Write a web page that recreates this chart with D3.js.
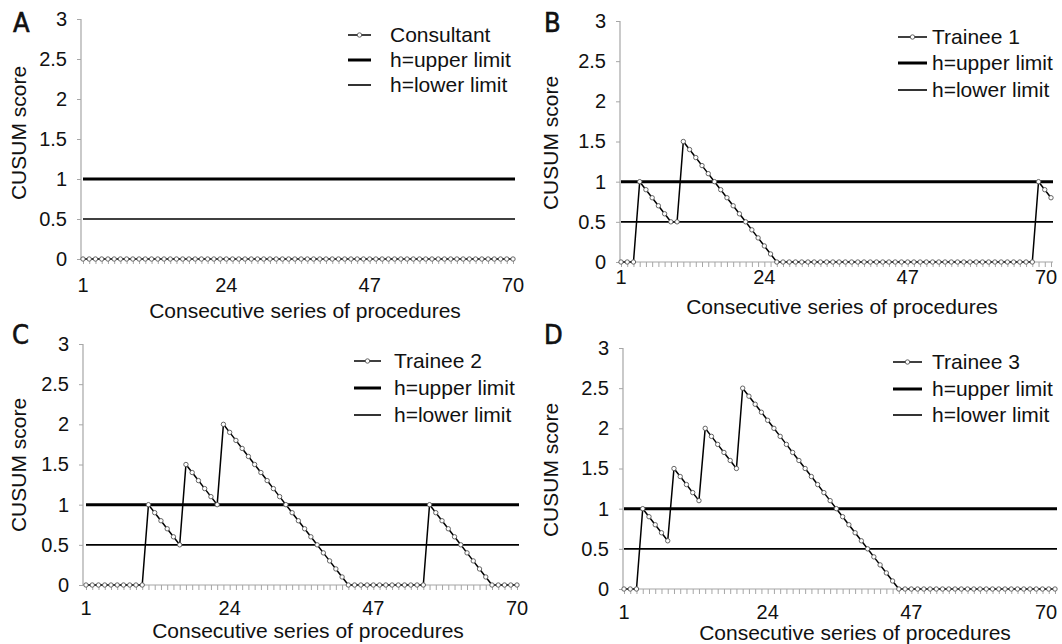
<!DOCTYPE html>
<html>
<head>
<meta charset="utf-8">
<script src="https://cdn.jsdelivr.net/npm/d3@7/dist/d3.min.js"></script>
<style>
  html, body { margin: 0; padding: 0; background: #fff; }
  svg { display: block; }
  text { font-family: "Liberation Sans", Arial, sans-serif; fill: #111; }
</style>
</head>
<body>
<svg id="chart" width="1062" height="644"></svg>
<script>
// ---------- DATA ----------
const categories = [1,2,3,4,5,6,7,8,9,10,11,12,13,14,15,16,17,18,19,20,21,22,23,24,25,26,27,28,29,30,31,32,33,34,35,36,37,38,39,40,41,42,43,44,45,46,47,48,49,50,51,52,53,54,55,56,57,58,59,60,61,62,63,64,65,66,67,68,69,70];
const xTickLabels = [1, 24, 47, 70];
const yTickValues = [0, 0.5, 1, 1.5, 2, 2.5, 3];
const upperLimit = 1;
const lowerLimit = 0.5;

const consultant = [0,0,0,0,0,0,0,0,0,0, 0,0,0,0,0,0,0,0,0,0, 0,0,0,0,0,0,0,0,0,0, 0,0,0,0,0,0,0,0,0,0, 0,0,0,0,0,0,0,0,0,0, 0,0,0,0,0,0,0,0,0,0, 0,0,0,0,0,0,0,0,0,0];
const trainee1 = [0,0,0,1.0,0.9,0.8,0.7,0.6,0.5,0.5, 1.5,1.4,1.3,1.2,1.1,1.0,0.9,0.8,0.7,0.6, 0.5,0.4,0.3,0.2,0.1,0,0,0,0,0, 0,0,0,0,0,0,0,0,0,0, 0,0,0,0,0,0,0,0,0,0, 0,0,0,0,0,0,0,0,0,0, 0,0,0,0,0,0,0,1.0,0.9,0.8];
const trainee2 = [0,0,0,0,0,0,0,0,0,0, 1.0,0.9,0.8,0.7,0.6,0.5,1.5,1.4,1.3,1.2, 1.1,1.0,2.0,1.9,1.8,1.7,1.6,1.5,1.4,1.3, 1.2,1.1,1.0,0.9,0.8,0.7,0.6,0.5,0.4,0.3, 0.2,0.1,0,0,0,0,0,0,0,0, 0,0,0,0,0,1.0,0.9,0.8,0.7,0.6, 0.5,0.4,0.3,0.2,0.1,0,0,0,0,0];
const trainee3 = [0,0,0,1.0,0.9,0.8,0.7,0.6,1.5,1.4, 1.3,1.2,1.1,2.0,1.9,1.8,1.7,1.6,1.5,2.5, 2.4,2.3,2.2,2.1,2.0,1.9,1.8,1.7,1.6,1.5, 1.4,1.3,1.2,1.1,1.0,0.9,0.8,0.7,0.6,0.5, 0.4,0.3,0.2,0.1,0,0,0,0,0,0, 0,0,0,0,0,0,0,0,0,0, 0,0,0,0,0,0,0,0,0,0];

const panelLetters = ["A", "B", "C", "D"];
const seriesNames = ["Consultant", "Trainee 1", "Trainee 2", "Trainee 3"];
const seriesValues = [consultant, trainee1, trainee2, trainee3];
const legendLabels = ["h=upper limit", "h=lower limit"];
const xTitle = "Consecutive series of procedures";
const yTitle = "CUSUM score";

// ---------- LAYOUT (pixels) ----------
const layout = [
  { axisX: 81,  x1: 83,  x70: 513,  yTop: 19,  yBot: 259, xLabY: 292, xTitleX: 305, xTitleY: 318, yTitleX: 19,  yTitleY: 133,
    letterX: 13, letterY: 32, legSym: [348, 371], legText: 390, legRows: [35, 60, 85] },
  { axisX: 620, x1: 621, x70: 1051, yTop: 21,  yBot: 262, xLabY: 284, xTitleX: 842, xTitleY: 314, yTitleX: 551, yTitleY: 143,
    letterX: 544, letterY: 32, legSym: [898, 927], legText: 932, legRows: [37, 63, 90] },
  { axisX: 83,  x1: 86,  x70: 517,  yTop: 344, yBot: 585, xLabY: 615, xTitleX: 308, xTitleY: 638, yTitleX: 19,  yTitleY: 465,
    letterX: 12, letterY: 344, legSym: [354, 381], legText: 394, legRows: [361, 388, 415] },
  { axisX: 623, x1: 624, x70: 1055, yTop: 348, yBot: 589, xLabY: 619, xTitleX: 855, xTitleY: 640, yTitleX: 551, yTitleY: 470,
    letterX: 544, letterY: 344, legSym: [893, 922], legText: 932, legRows: [362, 389, 415] }
];
const maxLabelCenter = 1046;

const svg = d3.select("#chart");
const axisColor = "#a6a6a6";

layout.forEach((L, i) => {
  const g = svg.append("g");
  const values = seriesValues[i];

  const x = d3.scalePoint().domain(categories).range([L.x1, L.x70]);
  const y = d3.scaleLinear().domain([0, 3]).range([L.yBot, L.yTop]);

  // Y axis
  const yAxis = d3.axisLeft(y).tickValues(yTickValues).tickSize(4).tickPadding(10)
    .tickFormat(d => String(d));
  const ya = g.append("g").attr("transform", `translate(${L.axisX},0)`).call(yAxis);
  ya.select(".domain").attr("stroke", axisColor).attr("stroke-width", 1.2)
    .attr("d", `M-0,${L.yTop}V${L.yBot}`);
  ya.selectAll(".tick line").attr("stroke", axisColor);
  ya.selectAll(".tick text").style("font-size", "20px").attr("fill", "#111")
    .style("font-family", '"Liberation Sans", Arial, sans-serif');

  // X axis (ticks at every category)
  const xAxis = d3.axisBottom(x).tickValues(categories).tickSize(5).tickFormat("");
  const xa = g.append("g").attr("transform", `translate(0,${L.yBot})`).call(xAxis);
  xa.select(".domain").attr("stroke", axisColor).attr("stroke-width", 1.2)
    .attr("d", `M${L.axisX},0H${L.x70 + 2}`);
  xa.selectAll(".tick line").attr("stroke", axisColor);

  // X tick labels
  g.selectAll(".xlab").data(xTickLabels).enter().append("text")
    .attr("x", d => Math.min(x(d), maxLabelCenter)).attr("y", L.xLabY)
    .attr("text-anchor", "middle").style("font-size", "20px").text(d => d);

  // Limit lines
  g.append("line").attr("x1", x(categories[0])).attr("x2", x(categories[categories.length-1]) + 2)
    .attr("y1", y(upperLimit)).attr("y2", y(upperLimit))
    .attr("stroke", "#000").attr("stroke-width", 3);
  g.append("line").attr("x1", x(categories[0])).attr("x2", x(categories[categories.length-1]) + 2)
    .attr("y1", y(lowerLimit)).attr("y2", y(lowerLimit))
    .attr("stroke", "#000").attr("stroke-width", 1.6);

  // Data line
  const pts = categories.map((c, k) => ({ c, v: values[k] }));
  g.append("path").datum(pts)
    .attr("fill", "none").attr("stroke", "#000").attr("stroke-width", 1.5)
    .attr("d", d3.line().x(d => x(d.c)).y(d => y(d.v)));
  g.selectAll(".pt").data(pts).enter().append("circle")
    .attr("cx", d => x(d.c)).attr("cy", d => y(d.v)).attr("r", 2.2)
    .attr("fill", "#fff").attr("stroke", "#555").attr("stroke-width", 0.9);

  // Titles
  g.append("text").attr("x", L.xTitleX).attr("y", L.xTitleY)
    .attr("text-anchor", "middle").style("font-size", "21px").text(xTitle);
  g.append("text").attr("transform", `translate(${L.yTitleX},${L.yTitleY}) rotate(-90)`)
    .attr("text-anchor", "middle").attr("dy", "0.35em").style("font-size", "21px").text(yTitle);

  // Panel letter
  g.append("text").attr("x", L.letterX).attr("y", L.letterY)
    .style("font-family", '"Liberation Sans Narrow", "DejaVu Sans Condensed", sans-serif')
    .style("font-size", "27px").attr("stroke", "#111").attr("stroke-width", 0.6)
    .text(panelLetters[i]);

  // Legend
  const lg = g.append("g");
  lg.append("line").attr("x1", L.legSym[0]).attr("x2", L.legSym[1])
    .attr("y1", L.legRows[0]).attr("y2", L.legRows[0]).attr("stroke", "#000").attr("stroke-width", 1.5);
  lg.append("circle").attr("cx", (L.legSym[0] + L.legSym[1]) / 2).attr("cy", L.legRows[0]).attr("r", 2.2)
    .attr("fill", "#fff").attr("stroke", "#555").attr("stroke-width", 0.9);
  lg.append("line").attr("x1", L.legSym[0]).attr("x2", L.legSym[1])
    .attr("y1", L.legRows[1]).attr("y2", L.legRows[1]).attr("stroke", "#000").attr("stroke-width", 3);
  lg.append("line").attr("x1", L.legSym[0]).attr("x2", L.legSym[1])
    .attr("y1", L.legRows[2]).attr("y2", L.legRows[2]).attr("stroke", "#000").attr("stroke-width", 1.6);
  const labels = [seriesNames[i], legendLabels[0], legendLabels[1]];
  lg.selectAll(".lt").data(labels).enter().append("text")
    .attr("x", L.legText).attr("y", (d, k) => L.legRows[k]).attr("dy", "0.35em")
    .style("font-size", "21px").text(d => d);
});
</script>
</body>
</html>
